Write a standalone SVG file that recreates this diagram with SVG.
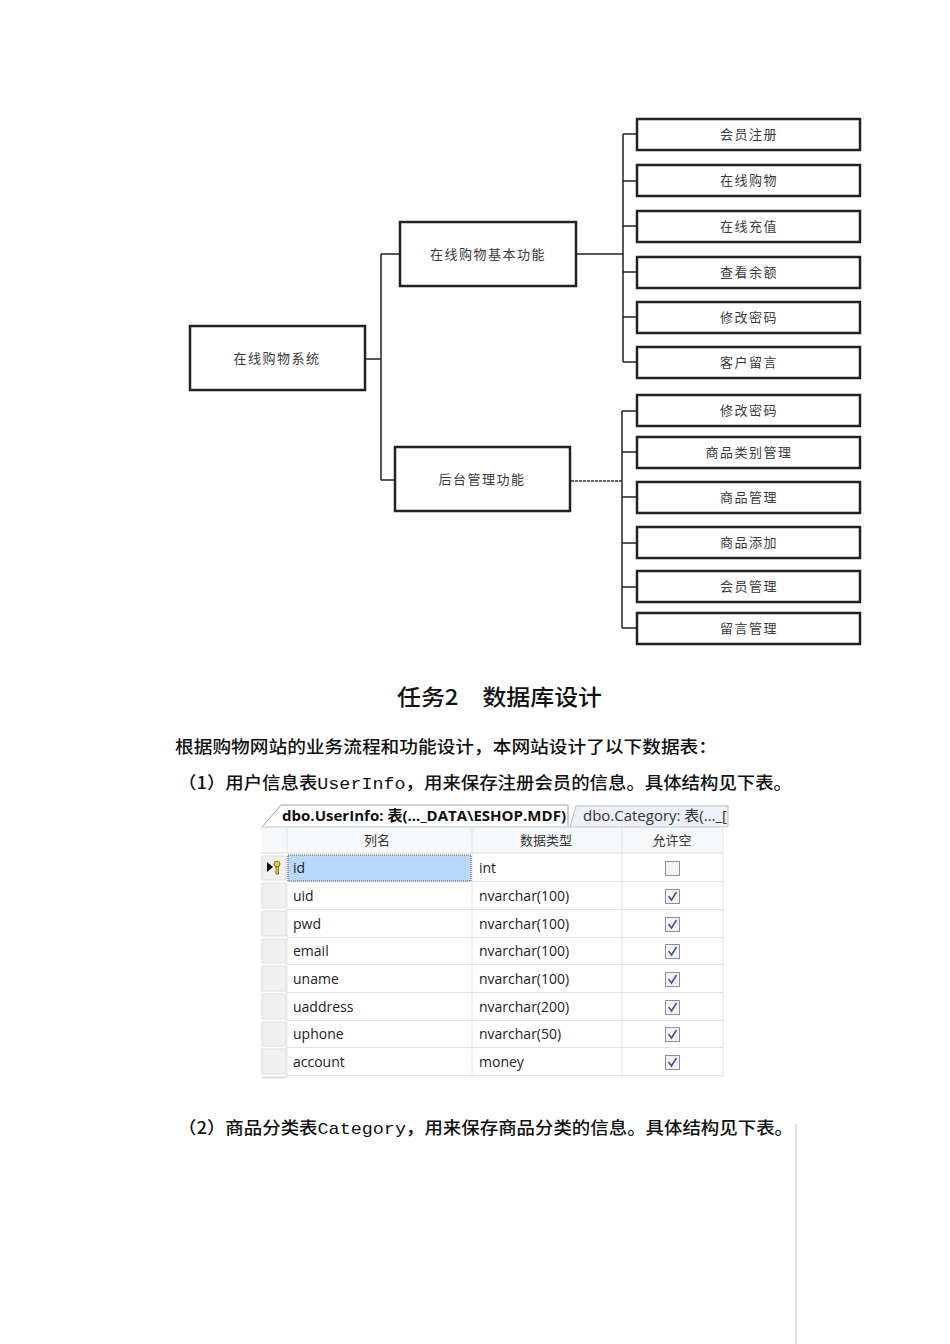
<svg xmlns="http://www.w3.org/2000/svg" width="950" height="1344" viewBox="0 0 950 1344">
<style>
.box{fill:#fff;stroke:#222;stroke-width:2.5}
.bt{font-family:"Noto Sans CJK SC","Noto Sans",sans-serif;font-size:13px;fill:#3a3a3a;text-anchor:middle;letter-spacing:1.5px}
.ln{stroke:#222;stroke-width:1.5;fill:none}
.body{font-family:"Noto Sans CJK SC","Noto Sans",sans-serif;font-size:17px;font-weight:500;fill:#111}
.mono{font-family:"Liberation Mono",monospace;font-weight:400}
.th{font-family:"Noto Sans CJK SC","Noto Sans",sans-serif;font-size:13px;fill:#333;text-anchor:middle}
.td{font-family:"Open Sans","Noto Sans",sans-serif;font-size:14px;fill:#222}
.grid{stroke:#e4e4e4;stroke-width:1}
.cb{fill:#f4f4f4;stroke:#8e8f8f;stroke-width:1}
.ck{fill:none;stroke:#3c5aa0;stroke-width:1.6}
</style>
<rect width="950" height="1344" fill="#fff"/>

<g id="connectors">
<path class="ln" d="M366 359H381M381 254V480M381 254H400M381 480H395"/>
<path class="ln" d="M576 254H623M623 134V362"/>
<path class="ln" d="M623 134H637M623 181H637M623 226H637M623 272H637M623 317H637M623 362H637"/>
<path d="M571 481H622" stroke="#333" stroke-width="1.3" stroke-dasharray="3,1"/>
<path class="ln" d="M622 411V628"/>
<path class="ln" d="M622 411H637M622 452H637M622 497H637M622 543H637M622 587H637M622 628H637"/>
</g>

<g id="root"><rect class="box" x="190" y="326" width="175" height="64"/><text class="bt" x="277" y="363">在线购物系统</text></g>
<g id="basic"><rect class="box" x="400" y="222" width="176" height="64"/><text class="bt" x="488" y="259">在线购物基本功能</text></g>
<g id="admin"><rect class="box" x="395" y="447" width="175" height="64"/><text class="bt" x="482" y="484">后台管理功能</text></g>

<g id="b1"><rect class="box" x="637" y="119" width="223" height="31"/><text class="bt" x="749" y="139">会员注册</text></g>
<g id="b2"><rect class="box" x="637" y="165" width="223" height="31"/><text class="bt" x="749" y="185">在线购物</text></g>
<g id="b3"><rect class="box" x="637" y="211" width="223" height="31"/><text class="bt" x="749" y="231">在线充值</text></g>
<g id="b4"><rect class="box" x="637" y="257" width="223" height="31"/><text class="bt" x="749" y="277">查看余额</text></g>
<g id="b5"><rect class="box" x="637" y="302" width="223" height="31"/><text class="bt" x="749" y="322">修改密码</text></g>
<g id="b6"><rect class="box" x="637" y="347" width="223" height="31"/><text class="bt" x="749" y="367">客户留言</text></g>

<g id="a1"><rect class="box" x="637" y="395" width="223" height="31"/><text class="bt" x="749" y="415">修改密码</text></g>
<g id="a2"><rect class="box" x="637" y="437" width="223" height="31"/><text class="bt" x="749" y="457">商品类别管理</text></g>
<g id="a3"><rect class="box" x="637" y="482" width="223" height="31"/><text class="bt" x="749" y="502">商品管理</text></g>
<g id="a4"><rect class="box" x="637" y="527" width="223" height="31"/><text class="bt" x="749" y="547">商品添加</text></g>
<g id="a5"><rect class="box" x="637" y="571" width="223" height="31"/><text class="bt" x="749" y="591">会员管理</text></g>
<g id="a6"><rect class="box" x="637" y="613" width="223" height="31"/><text class="bt" x="749" y="633">留言管理</text></g>

<g id="texts">
<text x="397" y="705" font-family="Noto Sans CJK SC,sans-serif" font-size="22" font-weight="500" fill="#111" textLength="205" lengthAdjust="spacingAndGlyphs">任务2　数据库设计</text>
<text class="body" x="175" y="753" textLength="542" lengthAdjust="spacingAndGlyphs">根据购物网站的业务流程和功能设计，本网站设计了以下数据表：</text>
<text class="body" x="178" y="789" textLength="614" lengthAdjust="spacingAndGlyphs">（1）用户信息表<tspan class="mono">UserInfo</tspan>，用来保存注册会员的信息。具体结构见下表。</text>
<text class="body" x="178" y="1134" textLength="615" lengthAdjust="spacingAndGlyphs">（2）商品分类表<tspan class="mono">Category</tspan>，用来保存商品分类的信息。具体结构见下表。</text>
</g>
<line x1="796" y1="1124" x2="796" y2="1344" stroke="#c8c8c8" stroke-width="1.2"/>

<g id="table">
<rect x="261" y="826" width="463" height="252" fill="#fff"/>
<path d="M262 827L281 805H568V827" fill="#fff" stroke="#9aa3ad" stroke-width="1"/>
<path d="M570 827L576 806H728V827" fill="#eef1f5" stroke="#b5bcc5" stroke-width="1"/>
<line x1="261" y1="827" x2="728" y2="827" stroke="#c0c6cd" stroke-width="1"/>
<text x="282" y="821" font-family="Open Sans,Noto Sans CJK SC,sans-serif" font-size="14.5" font-weight="700" fill="#111" textLength="284" lengthAdjust="spacingAndGlyphs">dbo.UserInfo: 表(..._DATA\ESHOP.MDF)</text>
<text x="583" y="821" font-family="Open Sans,Noto Sans CJK SC,sans-serif" font-size="14.5" fill="#333" textLength="144" lengthAdjust="spacingAndGlyphs">dbo.Category: 表(..._[</text>
<rect x="261" y="828" width="462" height="25" fill="#f7f8f9"/>
<line x1="261" y1="853" x2="723" y2="853" stroke="#dcdcdc"/>
<g class="grid">
<line x1="287" y1="828" x2="287" y2="1078"/>
<line x1="472" y1="828" x2="472" y2="1078"/>
<line x1="622" y1="828" x2="622" y2="1078"/>
<line x1="723" y1="828" x2="723" y2="1078"/>
</g>
<text class="th" x="377" y="845">列名</text>
<text class="th" x="546" y="845">数据类型</text>
<text class="th" x="672" y="845">允许空</text>

<g id="rowsel" fill="#f0f0f0" stroke="#e0e0e0">
<rect x="262" y="856" width="24" height="24"/>
<rect x="262" y="883" width="24" height="25"/>
<rect x="262" y="911" width="24" height="25"/>
<rect x="262" y="939" width="24" height="24"/>
<rect x="262" y="966" width="24" height="25"/>
<rect x="262" y="994" width="24" height="25"/>
<rect x="262" y="1022" width="24" height="24"/>
<rect x="262" y="1049" width="24" height="25"/>
<rect x="262" y="1077" width="24" height="1"/>
</g>
<g class="grid">
<line x1="287" y1="881.5" x2="723" y2="881.5"/>
<line x1="287" y1="909.5" x2="723" y2="909.5"/>
<line x1="287" y1="937.5" x2="723" y2="937.5"/>
<line x1="287" y1="964.5" x2="723" y2="964.5"/>
<line x1="287" y1="992.5" x2="723" y2="992.5"/>
<line x1="287" y1="1020.5" x2="723" y2="1020.5"/>
<line x1="287" y1="1047.5" x2="723" y2="1047.5"/>
<line x1="287" y1="1075.5" x2="723" y2="1075.5"/>
</g>
<rect x="288" y="855" width="183" height="26" fill="#b9d9fb" stroke="#555" stroke-width="1" stroke-dasharray="1,1"/>
<path d="M267 862L273 867L267 872Z" fill="#111"/>
<g fill="#e8c930" stroke="#6b5a10" stroke-width="0.8">
<circle cx="277" cy="864" r="3"/>
<path d="M276 867H278.5V874H276Z"/>
</g>

<g class="td">
<text x="293" y="873">id</text><text x="479" y="873">int</text>
<text x="293" y="901">uid</text><text x="479" y="901">nvarchar(100)</text>
<text x="293" y="929">pwd</text><text x="479" y="929">nvarchar(100)</text>
<text x="293" y="956">email</text><text x="479" y="956">nvarchar(100)</text>
<text x="293" y="984">uname</text><text x="479" y="984">nvarchar(100)</text>
<text x="293" y="1012">uaddress</text><text x="479" y="1012">nvarchar(200)</text>
<text x="293" y="1039">uphone</text><text x="479" y="1039">nvarchar(50)</text>
<text x="293" y="1067">account</text><text x="479" y="1067">money</text>
</g>

<g id="checks">
<rect class="cb" x="665.5" y="861.5" width="14" height="14"/>
<rect class="cb" x="665.5" y="889.5" width="14" height="14"/><path class="ck" d="M668.5 896L671.5 900L676.5 892"/>
<rect class="cb" x="665.5" y="917.5" width="14" height="14"/><path class="ck" d="M668.5 924L671.5 928L676.5 920"/>
<rect class="cb" x="665.5" y="944.5" width="14" height="14"/><path class="ck" d="M668.5 951L671.5 955L676.5 947"/>
<rect class="cb" x="665.5" y="972.5" width="14" height="14"/><path class="ck" d="M668.5 979L671.5 983L676.5 975"/>
<rect class="cb" x="665.5" y="1000.5" width="14" height="14"/><path class="ck" d="M668.5 1007L671.5 1011L676.5 1003"/>
<rect class="cb" x="665.5" y="1027.5" width="14" height="14"/><path class="ck" d="M668.5 1034L671.5 1038L676.5 1030"/>
<rect class="cb" x="665.5" y="1055.5" width="14" height="14"/><path class="ck" d="M668.5 1062L671.5 1066L676.5 1058"/>
</g>
</g>
</svg>
